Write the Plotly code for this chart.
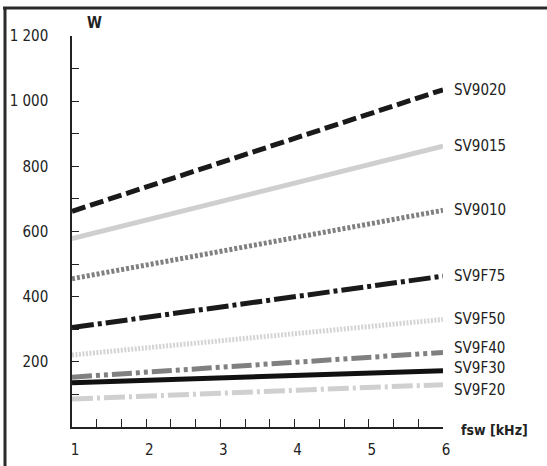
import plotly.graph_objects as go

# Data
fsw_khz = [1, 6]
series_names = ["SV9020", "SV9015", "SV9010", "SV9F75", "SV9F50", "SV9F40", "SV9F30", "SV9F20"]
sv9020 = [662, 1035]
sv9015 = [578, 862]
sv9010 = [455, 665]
sv9f75 = [305, 463]
sv9f50 = [221, 330]
sv9f40 = [153, 229]
sv9f30 = [136, 173]
sv9f20 = [86, 130]
y_tickvals = [200, 400, 600, 800, 1000, 1200]
y_ticktext = ["200", "400", "600", "800", "1 000", "1 200"]
x_tickvals = [1, 2, 3, 4, 5, 6]

values = [sv9020, sv9015, sv9010, sv9f75, sv9f50, sv9f40, sv9f30, sv9f20]

FONT = "DejaVu Sans Condensed, Liberation Sans, Arial, sans-serif"
FS = 15

styles = {
    "SV9020": dict(color="#1a1a1a", width=5, dash="14px,5px"),
    "SV9015": dict(color="#cfcfcf", width=5, dash="solid"),
    "SV9010": dict(color="#808080", width=5, dash="3px,2px"),
    "SV9F75": dict(color="#1a1a1a", width=5, dash="22px,4px,4px,4px"),
    "SV9F50": dict(color="#d4d4d4", width=5, dash="2px,1.5px"),
    "SV9F40": dict(color="#808080", width=5, dash="20px,4px,4px,4px,4px,4px"),
    "SV9F30": dict(color="#111111", width=5, dash="solid"),
    "SV9F20": dict(color="#d0d0d0", width=5, dash="21px,4px,3px,4px"),
}
label_yshift = {"SV9F40": 4, "SV9F30": 3, "SV9F20": -5}

fig = go.Figure()
for name, vals in zip(series_names, values):
    fig.add_trace(go.Scatter(x=fsw_khz, y=vals, mode="lines", name=name,
                             line=styles[name], showlegend=False, hoverinfo="skip"))
    fig.add_annotation(x=fsw_khz[-1], y=vals[-1], xref="x", yref="y", text=name,
                       showarrow=False, xanchor="left", yanchor="middle",
                       xshift=9, yshift=label_yshift.get(name, 0),
                       font=dict(size=FS, color="#222222", family=FONT))

W, H = 547, 466
ml, mr, mt, mb = 72, 104, 36, 39
pw, ph = W - ml - mr, H - mt - mb

fig.update_layout(
    width=W, height=H,
    margin=dict(l=ml, r=mr, t=mt, b=mb, pad=0, autoexpand=False),
    paper_bgcolor="white", plot_bgcolor="white",
    font=dict(family=FONT, size=FS, color="#222222"),
    xaxis=dict(range=[1, 6], tickvals=x_tickvals, showline=True, linecolor="#222222",
               linewidth=1.5, ticks="inside", ticklen=8, tickcolor="#222222",
               tickfont=dict(size=FS, family=FONT), automargin=False,
               showgrid=False, zeroline=False, ticklabelstandoff=8, ticklabelshift=3,
               minor=dict(dtick=1/3, tick0=1, ticks="inside", ticklen=8, tickcolor="#222222",
                          showgrid=False)),
    yaxis=dict(range=[0, 1200], tickvals=y_tickvals, ticktext=y_ticktext, showline=True,
               linecolor="#222222", linewidth=1.5, ticks="inside", ticklen=7,
               tickcolor="#222222", tickfont=dict(size=FS, family=FONT), automargin=False,
               showgrid=False, zeroline=False, ticklabelstandoff=19,
               minor=dict(dtick=100, tick0=0, ticks="inside", ticklen=7, tickcolor="#222222",
                          showgrid=False)),
)

fig.add_annotation(x=(85 - ml) / pw, y=1 + (mt - 23) / ph, xref="paper", yref="paper",
                   text="<b>W</b>", showarrow=False, xanchor="left", yanchor="middle",
                   font=dict(size=FS, family=FONT))
fig.add_annotation(x=(459 - ml) / pw, y=(mt + ph - 430) / ph, xref="paper", yref="paper",
                   text="<b>fsw [kHz]</b>", showarrow=False, xanchor="left", yanchor="middle",
                   font=dict(size=14, family=FONT))

# partial frame (top and left edges)
top_y = 1 + (mt - 8) / ph
left_x = (5 - ml) / pw
fig.add_shape(type="line", xref="paper", yref="paper", x0=(3 - ml) / pw, x1=(W - ml) / pw,
              y0=top_y, y1=top_y, line=dict(color="#2a2a2a", width=3))
fig.add_shape(type="line", xref="paper", yref="paper", x0=left_x, x1=left_x,
              y0=top_y, y1=-(mb + 5) / ph, line=dict(color="#2a2a2a", width=3))

fig.write_html("out.html", config={"displayModeBar": False},
               post_script="document.body.style.margin='0';")
